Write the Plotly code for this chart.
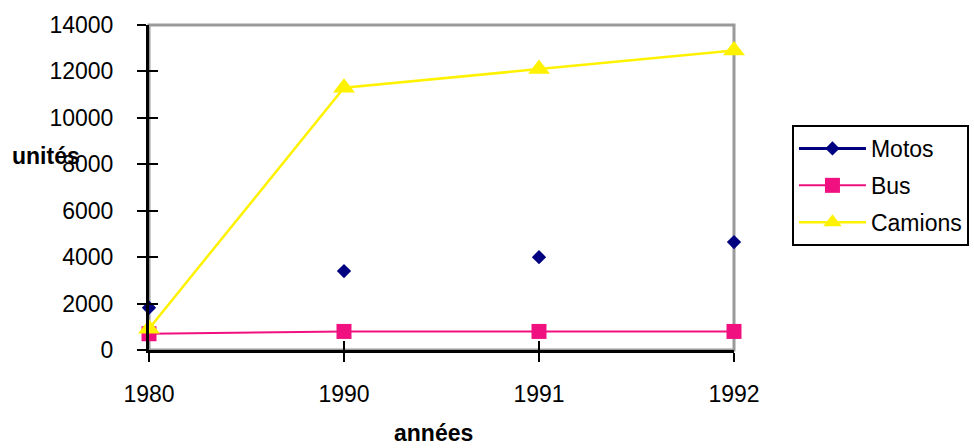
import plotly.graph_objects as go

# Data
annees = ["1980", "1990", "1991", "1992"]
motos = [1820, 3400, 4000, 4650]
bus = [700, 800, 800, 800]
camions = [920, 11300, 12100, 12900]
y_ticks = [0, 2000, 4000, 6000, 8000, 10000, 12000, 14000]

FONT = "Liberation Sans, Arial, sans-serif"
NAVY = "#000080"
PINK = "#F0107F"
YELLOW = "#FFF200"

fig = go.Figure()

# Motos: markers only on the chart, line+marker symbol in the legend
fig.add_trace(go.Scatter(
    x=annees, y=motos, mode="markers", name="Motos", showlegend=False,
    marker=dict(symbol="diamond", size=11, color=NAVY),
    cliponaxis=False, legendgroup="m"))
fig.add_trace(go.Scatter(
    x=[None], y=[None], mode="lines+markers", name="Motos",
    line=dict(color=NAVY, width=3),
    marker=dict(symbol="diamond", size=11, color=NAVY), legendgroup="m"))
fig.add_trace(go.Scatter(
    x=annees, y=bus, mode="lines+markers", name="Bus",
    line=dict(color=PINK, width=2),
    marker=dict(symbol="square", size=15, color=PINK),
    cliponaxis=False, legendgroup="b"))
fig.add_trace(go.Scatter(
    x=annees, y=camions, mode="lines+markers", name="Camions",
    line=dict(color=YELLOW, width=2.5),
    marker=dict(symbol="triangle-up", size=19, color=YELLOW),
    cliponaxis=False, legendgroup="c"))

tickfont = dict(family=FONT, size=23, color="black")

fig.update_layout(
    width=974, height=448,
    margin=dict(l=149, r=240, t=20, b=98),
    paper_bgcolor="white", plot_bgcolor="white",
    font=dict(family=FONT, size=23, color="black"),
    xaxis=dict(type="category", categoryorder="array", categoryarray=annees,
               range=[0, 3], showgrid=False, zeroline=False,
               showline=True, linecolor="black", linewidth=3,
               ticks="outside", ticklen=9, tickwidth=2, tickcolor="black",
               tickfont=tickfont, ticklabelstandoff=12),
    yaxis=dict(range=[0, 14000], tickvals=y_ticks, tickformat="d",
               showgrid=False, zeroline=False, showline=True,
               linecolor="black", linewidth=3,
               ticks="outside", ticklen=9, tickwidth=2, tickcolor="black",
               tickfont=tickfont, ticklabelstandoff=19),
    # inner halves of the crossing tick marks
    xaxis2=dict(type="linear", overlaying="x", anchor="y", side="bottom",
                range=[0, 3], tickvals=[0, 1, 2, 3], showticklabels=False,
                showgrid=False, zeroline=False, ticks="inside", ticklen=9,
                tickwidth=2, tickcolor="black"),
    yaxis2=dict(overlaying="y", anchor="x", side="left", range=[0, 14000],
                tickvals=y_ticks, showticklabels=False, showgrid=False,
                zeroline=False, ticks="inside", ticklen=9, tickwidth=2,
                tickcolor="black"),
    legend=dict(xref="container", yref="container", x=0.8131, y=0.721,
                xanchor="left", yanchor="top",
                bgcolor="white", bordercolor="black", borderwidth=2,
                font=dict(family=FONT, size=23, color="black"),
                itemwidth=67, tracegroupgap=4, traceorder="grouped"),
    showlegend=True,
)

# grey frame around the plotting area
fig.add_shape(type="rect", xref="paper", yref="paper", x0=0, x1=1, y0=0, y1=1,
              line=dict(color="#9a9a9a", width=3), layer="below")

fig.add_annotation(text="<b>unités</b>", xref="paper", yref="paper",
                   x=-0.176, y=0.597, xanchor="center", yanchor="middle",
                   showarrow=False, font=dict(family=FONT, size=23, color="black"))
fig.add_annotation(text="<b>années</b>", xref="paper", yref="paper",
                   x=0.487, y=-0.255, xanchor="center", yanchor="middle",
                   showarrow=False, font=dict(family=FONT, size=23, color="black"))

# invisible anchor so the overlay axes are drawn
fig.add_trace(go.Scatter(x=[None], y=[None], xaxis="x2", yaxis="y2",
                         showlegend=False, hoverinfo="skip"))

fig.write_html("out.html")
